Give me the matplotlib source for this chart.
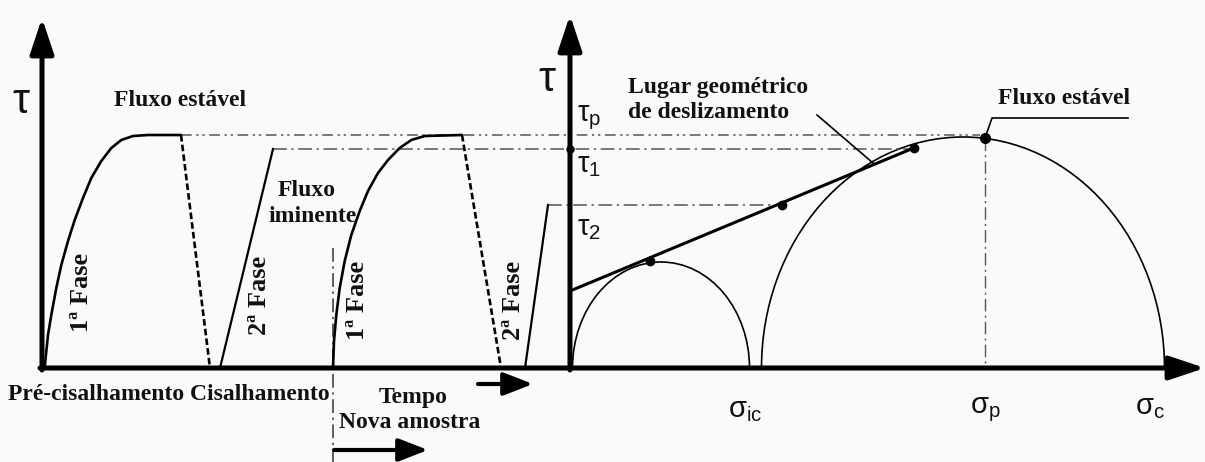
import numpy as np
import matplotlib.pyplot as plt
from matplotlib.patches import Arc

plt.rcParams['mathtext.fontset'] = 'custom'
plt.rcParams['mathtext.rm'] = 'Liberation Sans'

# coordinates: x in px from the left, tau = height above the baseline (px)
# 1a fase (primeira amostra)
fase1_x = [44.7, 45.3, 48, 51.3, 56.3, 61.3, 68, 74.7, 83, 91.3, 101.3, 111.3, 121.3, 133, 148, 181]
fase1_tau = [0, 7, 33, 53, 80, 103, 127, 148, 170, 190, 207, 220, 228, 232, 233, 233]
queda1_x = [181, 210]
queda1_tau = [233, 0]
fase2_x = [220, 273]
fase2_tau = [0, 219]

# nova amostra
fase1b_x = [333, 334, 336.3, 339.7, 344.7, 351.3, 359.7, 368, 378, 388, 399.7, 411.3, 424.7, 462]
fase1b_tau = [0, 27, 53, 80, 107, 133, 157, 177, 195, 208, 220, 228, 232, 233]
queda2_x = [462, 501]
queda2_tau = [233, 0]
fase2b_x = [525, 548]
fase2b_tau = [0, 163]

tau_p, tau_1, tau_2 = 233, 219, 163

# Mohr circles (center, radius in x, radius in y)
circ_center = [661, 963]
circ_rx = [88.5, 201.5]
circ_ry = [106, 231]

# envelope and tangent points
env_x = [570, 916]
env_tau = [77, 221]
pts_x = [650, 782, 914]
pts_tau = [107, 163, 220]
sigma_p = 985

fig = plt.figure(figsize=(12.05, 4.62), dpi=100)
fig.patch.set_facecolor('#fafafa')
ax = fig.add_axes([0, 0, 1, 1])
ax.set_xlim(0, 1205)
ax.set_ylim(-94, 368)
ax.axis('off')

serif = dict(family='Liberation Serif', weight='bold', color='#111111')
sans = dict(family='Liberation Sans', color='#111111')
ddash = (0, (7, 3, 1.5, 2.5, 1.5, 3))
dash_dot = (0, (9, 3, 1.5, 3))

# axes
arrow = dict(arrowstyle='-|>,head_length=0.9,head_width=0.3', lw=3.6,
             color='k', mutation_scale=24, shrinkA=0, shrinkB=0)
ax.annotate('', xy=(1205, 0), xytext=(40, 0), arrowprops=arrow)
ax.annotate('', xy=(42, 350), xytext=(42, -2), arrowprops=arrow)
ax.annotate('', xy=(570, 353), xytext=(570, -2), arrowprops=arrow)

# reference lines
ax.plot([181, 980], [tau_p, tau_p], color='#555555', lw=1.1, ls=ddash)
ax.plot([273, 914], [tau_1, tau_1], color='#555555', lw=1.1, ls=dash_dot)
ax.plot([548, 782], [tau_2, tau_2], color='#555555', lw=1.1, ls=dash_dot)
ax.plot([333, 333], [120, -94], color='#333333', lw=1.1, ls=dash_dot)
ax.plot([sigma_p, sigma_p], [230, 0], color='#555555', lw=1.0, ls=dash_dot)

# left diagram curves
curve = dict(color='k', lw=1.9, solid_joinstyle='round', solid_capstyle='round')
ax.plot(fase1_x, fase1_tau, **curve)
ax.plot(queda1_x, queda1_tau, color='k', lw=1.9, ls=(0, (2.5, 1.2)))
ax.plot(fase2_x, fase2_tau, color='k', lw=1.6)
ax.plot(fase1b_x, fase1b_tau, **curve)
ax.plot(queda2_x, queda2_tau, color='k', lw=1.9, ls=(0, (2.5, 1.2)))
ax.plot(fase2b_x, fase2b_tau, color='k', lw=1.6)

# Mohr circles
for c, rx, ry in zip(circ_center, circ_rx, circ_ry):
    ax.add_patch(Arc((c, 0), 2 * rx, 2 * ry, theta1=0, theta2=180,
                     color='k', lw=1.2))

ax.plot(env_x, env_tau, color='k', lw=2.2)
ax.plot(pts_x, pts_tau, 'o', color='k', ms=6)
ax.plot([570], [tau_1], 'o', color='k', ms=5)
ax.plot([sigma_p], [230], 'o', color='k', ms=7)

# leaders
ax.plot([817, 873], [253, 205], color='k', lw=1.2)
ax.plot([sigma_p, 992, 1128], [230, 250, 250], color='k', lw=1.2)

# labels
ax.text(21, 266, 'τ', fontsize=31, ha='center', va='center', **sans)
ax.text(547, 288, 'τ', fontsize=31, ha='center', va='center', **sans)
ax.text(577, 250, 'τ$_\\mathrm{p}$', fontsize=21, ha='left', va='center', **sans)
ax.text(577, 203, 'τ$_\\mathrm{1}$', fontsize=21, ha='left', va='center', **sans)
ax.text(577, 140, 'τ$_\\mathrm{2}$', fontsize=21, ha='left', va='center', **sans)
ax.text(745, -42, 'σ$_\\mathrm{ic}$', fontsize=21, ha='center', va='center', **sans)
ax.text(985, -42, 'σ$_\\mathrm{p}$', fontsize=21, ha='center', va='center', **sans)
ax.text(1150, -39, 'σ$_\\mathrm{c}$', fontsize=21, ha='center', va='center', **sans)

ax.text(180, 268, 'Fluxo estável', fontsize=17, ha='center', va='center', **serif)
ax.text(307, 178, 'Fluxo', fontsize=17, ha='center', va='center', **serif)
ax.text(313, 151, 'iminente', fontsize=17, ha='center', va='center', **serif)
ax.text(82, 76, '1ª Fase', fontsize=19, rotation=90, ha='center', va='center', **serif)
ax.text(260, 73, '2ª Fase', fontsize=19, rotation=90, ha='center', va='center', **serif)
ax.text(358, 68, '1ª Fase', fontsize=19, rotation=90, ha='center', va='center', **serif)
ax.text(513, 68, '2ª Fase', fontsize=19, rotation=90, ha='center', va='center', **serif)
ax.text(8, -27, 'Pré-cisalhamento Cisalhamento', fontsize=17, ha='left', va='center', **serif)
ax.text(413, -30, 'Tempo', fontsize=17, ha='center', va='center', **serif)
ax.text(410, -55, 'Nova amostra', fontsize=17, ha='center', va='center', **serif)
ax.text(628, 281, 'Lugar geométrico', fontsize=17, ha='left', va='center', **serif)
ax.text(628, 255, 'de deslizamento', fontsize=17, ha='left', va='center', **serif)
ax.text(998, 270, 'Fluxo estável', fontsize=17, ha='left', va='center', **serif)

small_arrow = dict(arrowstyle='-|>,head_length=0.9,head_width=0.35', lw=3.0,
                   color='k', mutation_scale=20, shrinkA=0, shrinkB=0)
ax.annotate('', xy=(533, -16), xytext=(478, -16), arrowprops=small_arrow)
ax.annotate('', xy=(428, -82), xytext=(334, -82), arrowprops=small_arrow)

fig.savefig('out.png', dpi=100, facecolor=fig.get_facecolor())
